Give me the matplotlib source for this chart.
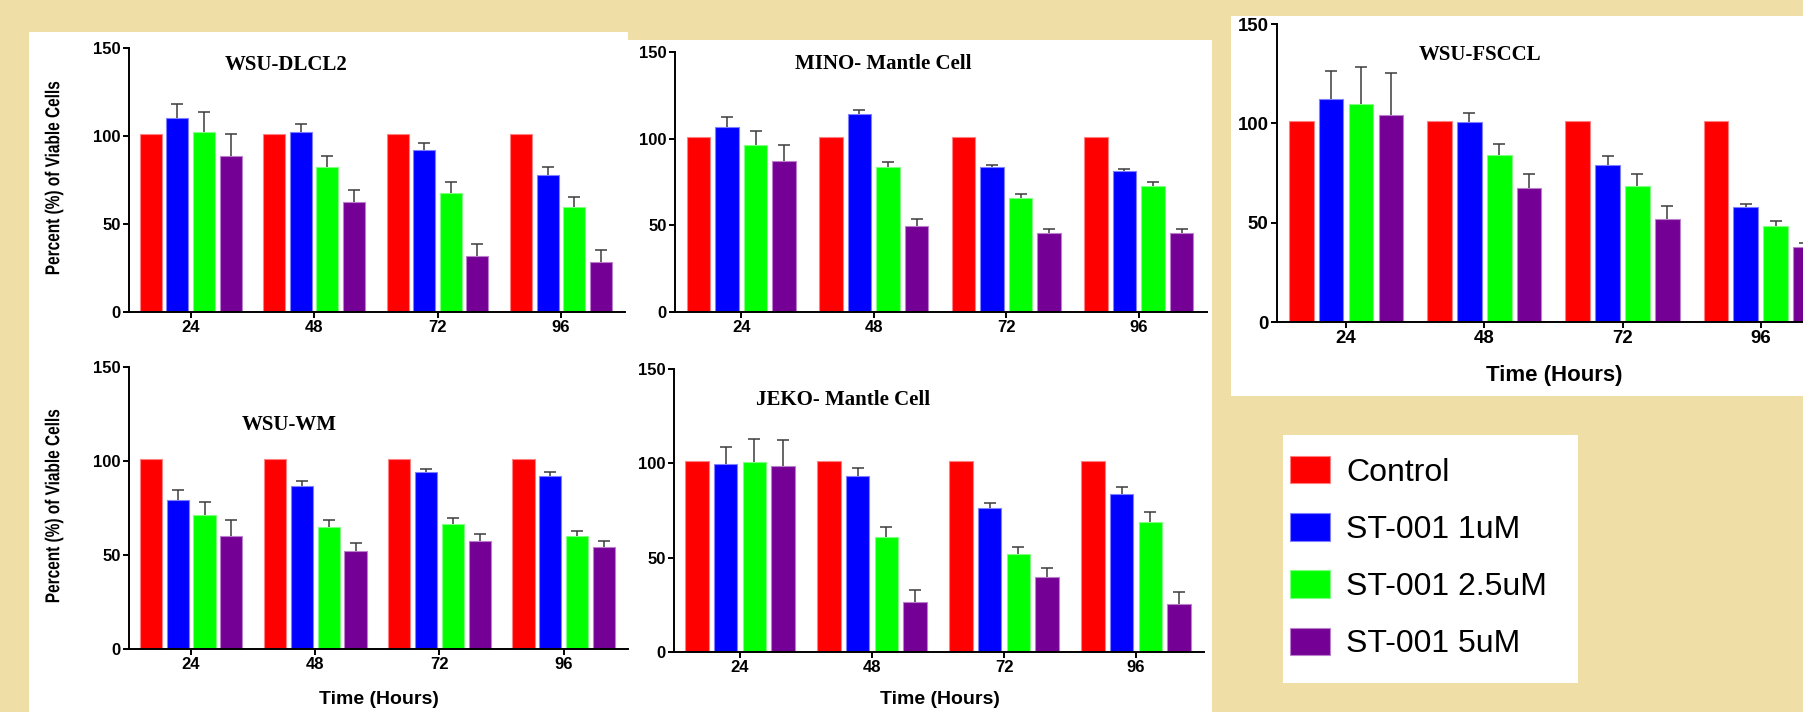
import numpy as np
import matplotlib
matplotlib.use('Agg')
import matplotlib.pyplot as plt
from matplotlib.patches import Rectangle, Patch, PathPatch
from matplotlib.colors import to_rgb
from matplotlib.textpath import TextPath
from matplotlib.font_manager import FontProperties
from matplotlib.transforms import Affine2D

plt.rcParams['font.family'] = ['Liberation Sans', 'DejaVu Sans']

# ---- data (rows: Control, 1uM, 2.5uM, 5uM ; cols: 24, 48, 72, 96 h) ----
hours = ['24', '48', '72', '96']
treatments = ['Control', 'ST-001 1uM', 'ST-001 2.5uM', 'ST-001 5uM']
colors = ['#FF0000', '#0000FF', '#00FF00', '#750096']

dlcl2_mean = [[101, 101, 101, 101],
              [110.1, 102.4, 91.8, 77.8],
              [102.4, 82.6, 67.6, 59.5],
              [88.6, 62.5, 32.1, 28.3]]
dlcl2_err = [[0, 0, 0, 0],
             [8.2, 4.2, 4.4, 4.8],
             [11.3, 6.0, 6.1, 5.9],
             [12.7, 6.6, 6.8, 7.0]]

mino_mean = [[101, 101, 101, 101],
             [106.7, 114.3, 83.8, 81.1],
             [96.5, 83.4, 66.0, 72.7],
             [87.1, 49.5, 45.5, 45.5]]
mino_err = [[0, 0, 0, 0],
            [6.0, 2.5, 1.2, 1.6],
            [8.0, 3.3, 2.1, 2.5],
            [9.2, 4.0, 2.5, 2.5]]

fsccl_mean = [[101, 101, 101, 101],
              [112.2, 100.8, 78.9, 57.9],
              [109.7, 83.9, 68.6, 48.5],
              [104.2, 67.3, 51.7, 37.6]]
fsccl_err = [[0, 0, 0, 0],
             [14.0, 4.6, 4.5, 1.3],
             [18.7, 5.9, 6.1, 2.2],
             [21.0, 7.0, 6.9, 2.3]]

wm_mean = [[101, 101, 101, 101],
           [79.4, 86.9, 94.0, 92.2],
           [71.5, 64.9, 66.7, 60.3],
           [60.3, 52.3, 57.6, 54.3]]
wm_err = [[0, 0, 0, 0],
          [5.2, 2.3, 1.7, 1.8],
          [6.5, 3.7, 2.8, 2.5],
          [8.3, 4.1, 3.6, 3.0]]

jeko_mean = [[101, 101, 101, 101],
             [99.9, 93.5, 76.4, 83.6],
             [100.6, 60.7, 51.9, 68.8],
             [98.5, 26.3, 39.9, 25.4]]
jeko_err = [[0, 0, 0, 0],
            [9.0, 4.1, 2.8, 4.1],
            [12.2, 5.8, 3.5, 5.3],
            [13.9, 6.5, 4.4, 6.2]]

W, H = 1803, 712
BG = '#F0DEA7'
PITCH, BAR_W = 0.216, 0.178
XLIM = (-0.536, 3.516)


def fx(px):
    return px / W


def fy(py):
    return 1 - py / H


def lighten(c, f=0.5):
    r, g, b = to_rgb(c)
    return (r + (1 - r) * f, g + (1 - g) * f, b + (1 - b) * f)


fig = plt.figure(figsize=(W / 100, H / 100), dpi=100, facecolor=BG)

# white cards behind the pasted graphs (pixel boxes: x0, y0, x1, y1)
for x0, y0, x1, y1 in [(29, 32, 628, 712), (628, 40, 1212, 712),
                       (1231, 16, 1803, 396), (1283, 435, 1578, 683)]:
    fig.add_artist(Rectangle((fx(x0), fy(y1)), (x1 - x0) / W, (y1 - y0) / H,
                             transform=fig.transFigure, facecolor='white',
                             edgecolor='none', zorder=-10))


def panel(yaxis_px, spacing_px, y0_px, y150_px, means, errs, title, tx, ty,
          fs=12, title_fs=15):
    left = yaxis_px + (XLIM[0] + 0.5) * spacing_px
    width = (XLIM[1] - XLIM[0]) * spacing_px
    ax = fig.add_axes([fx(left), fy(y0_px), width / W, (y0_px - y150_px) / H])
    ax.patch.set_visible(False)
    x = np.arange(len(hours))
    for i, (m, e, c) in enumerate(zip(means, errs, colors)):
        pos = x + (i - 1.5) * PITCH
        ax.bar(pos, m, width=BAR_W, color=c, edgecolor=lighten(c),
               linewidth=0.8, zorder=2)
        if any(e):
            eb = ax.errorbar(pos, m, yerr=[np.zeros(len(e)), e], fmt='none',
                             ecolor='#3c3c3c', elinewidth=1.1, capsize=4,
                             capthick=1.1, zorder=3)
            eb[1][0].set_visible(False)
    ax.set_xlim(*XLIM)
    ax.set_ylim(0, 150)
    ax.set_xticks(x, hours)
    ax.set_yticks([0, 50, 100, 150])
    for s in ['top', 'right']:
        ax.spines[s].set_visible(False)
    ax.spines['left'].set_position(('data', -0.5))
    for s in ['left', 'bottom']:
        ax.spines[s].set_linewidth(1.4)
    ax.tick_params(direction='out', length=4, width=1.4, labelsize=fs, pad=2)
    for lbl in ax.get_xticklabels() + ax.get_yticklabels():
        lbl.set_fontweight('bold')
    ax.text(tx, ty, title, ha='center', va='center', fontsize=title_fs,
            fontweight='bold', family='Liberation Serif')
    return ax


panel(129, 123.4, 312, 48, dlcl2_mean, dlcl2_err, 'WSU-DLCL2', 0.77, 140.6)
panel(675, 132.5, 312, 52, mino_mean, mino_err, 'MINO- Mantle Cell', 1.075, 142.8)
panel(1277, 138.2, 322, 24, fsccl_mean, fsccl_err, 'WSU-FSCCL', 0.97, 134.6, fs=13.4)
panel(129, 124.2, 649, 367, wm_mean, wm_err, 'WSU-WM', 0.79, 119)
panel(674, 132, 652, 369, jeko_mean, jeko_err, 'JEKO- Mantle Cell', 0.78, 133.8)

# condensed bold y label (the original uses a narrow font)
ylab = 'Percent (%) of Viable Cells'
tp = TextPath((0, 0), ylab, size=20,
              prop=FontProperties(family='Liberation Sans', weight='bold'))
bb = tp.get_extents()
for yc in [178, 506]:
    tr = (Affine2D().translate(-(bb.x0 + bb.x1) / 2, -(bb.y0 + bb.y1) / 2)
          .scale(0.77, 1).rotate_deg(90).translate(54, H - yc))
    fig.add_artist(PathPatch(tp, transform=tr, facecolor='black',
                             edgecolor='none'))

for xc, yc, fs in [(379, 700, 14), (940, 700, 14), (1554, 375, 16)]:
    fig.text(fx(xc), fy(yc), 'Time (Hours)', ha='center', va='center',
             fontsize=fs, fontweight='bold')

handles = [Patch(facecolor=c, edgecolor=lighten(c), linewidth=0.8) for c in colors]
fig.legend(handles, treatments, loc='upper left',
           bbox_to_anchor=(fx(1290), fy(456)), bbox_transform=fig.transFigure,
           frameon=False, fontsize=23, handlelength=1.25, handleheight=0.94,
           handletextpad=0.5, labelspacing=0.8, borderpad=0, borderaxespad=0)

fig.savefig('out.png', dpi=100, facecolor=BG)
